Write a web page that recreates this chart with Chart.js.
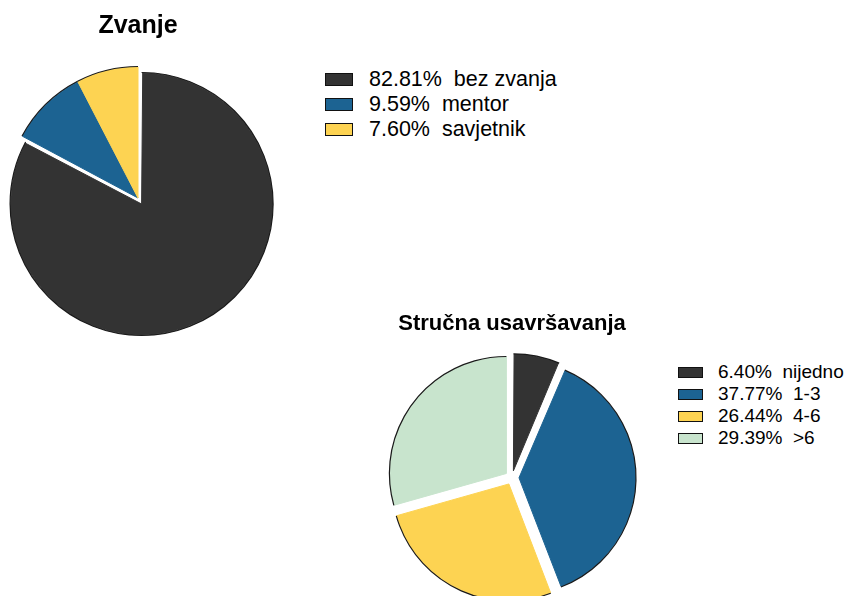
<!DOCTYPE html>
<html>
<head>
<meta charset="utf-8">
<script src="https://cdn.jsdelivr.net/npm/chart.js@4.4.0/dist/chart.umd.min.js"></script>
<style>
    html, body {
        margin: 0;
        padding: 0;
        background: #ffffff;
    }
    body {
        position: relative;
        width: 851px;
        height: 596px;
        overflow: hidden;
        font-family: 'Liberation Sans', Arial, sans-serif;
    }
    .chart-box {
        position: absolute;
    }
    .legend {
        position: absolute;
        color: #000;
    }
    .legend-row {
        display: flex;
        align-items: center;
        white-space: pre;
    }
    .legend-swatch {
        display: inline-block;
        box-sizing: border-box;
        border: 1px solid #111;
    }
</style>
</head>
<body>
<div class="chart-box" style="left:-12px; top:0px; width:300px; height:355px;">
    <canvas id="zvanjeChart"></canvas>
</div>
<div class="legend" id="zvanjeLegend" style="left:325px; top:67px;"></div>

<div class="chart-box" style="left:362px; top:300px; width:300px; height:318px;">
    <canvas id="usavChart"></canvas>
</div>
<div class="legend" id="usavLegend" style="left:678px; top:361px;"></div>

<script>
        const zvanjeLabels = ['bez zvanja', 'mentor', 'savjetnik'];
        const zvanjeValues = [82.81, 9.59, 7.60];

        const usavLabels = ['nijedno', '1-3', '4-6', '>6'];
        const usavValues = [6.40, 37.77, 26.44, 29.39];

        const sliceColors = {
            dark: '#333333',
            blue: '#1c6392',
            yellow: '#fdd352',
            green: '#c8e4cd'
        };

        const zvanjeColors = [sliceColors.dark, sliceColors.blue, sliceColors.yellow];
        const usavColors = [sliceColors.dark, sliceColors.blue, sliceColors.yellow, sliceColors.green];

        // chart.js grows an offset slice's radius a bit; undo that so all slices match
        const radiusFix = (arc) => {
            const off = (arc.options.offset || 0) / 4;
            return off * (1 - Math.sin(Math.min(Math.PI, arc.circumference || 0)));
        };

        const explodePlugin = {
            id: 'explodeFix',
            afterUpdate(chart) {
                chart.getDatasetMeta(0).data.forEach(arc => {
                    arc.outerRadius -= radiusFix(arc);
                });
            },
            afterDatasetsDraw(chart) {
                const ctx = chart.ctx;
                chart.getDatasetMeta(0).data.forEach(arc => {
                    const off = (arc.options.offset || 0) / 4;
                    const mid = (arc.startAngle + arc.endAngle) / 2;
                    const r = arc.outerRadius + radiusFix(arc) + 0.5;
                    ctx.save();
                    ctx.translate(Math.cos(mid) * off, Math.sin(mid) * off);
                    ctx.beginPath();
                    ctx.arc(arc.x, arc.y, r, arc.startAngle, arc.endAngle);
                    ctx.strokeStyle = '#1a1a1a';
                    ctx.lineWidth = 1.2;
                    ctx.stroke();
                    ctx.restore();
                });
            }
        };

        const pieOptions = (title, fontSize, radius) => ({
            responsive: true,
            maintainAspectRatio: false,
            animation: false,
            radius: radius,
            layout: { padding: 0 },
            plugins: {
                legend: { display: false },
                tooltip: { enabled: false },
                title: {
                    display: true,
                    text: title,
                    color: '#000000',
                    font: { family: "'Liberation Sans', Arial, sans-serif", size: fontSize, weight: 'bold' },
                    padding: { top: 11, bottom: 0 }
                }
            }
        });

        new Chart(document.getElementById('zvanjeChart').getContext('2d'), {
            type: 'pie',
            data: {
                labels: zvanjeLabels,
                datasets: [{
                    data: zvanjeValues,
                    backgroundColor: zvanjeColors,
                    borderColor: zvanjeColors,
                    borderWidth: 1,
                    offset: [28, 0, 0],
                    clip: false
                }]
            },
            options: pieOptions('Zvanje', 25, 131),
            plugins: [explodePlugin]
        });

        new Chart(document.getElementById('usavChart').getContext('2d'), {
            type: 'pie',
            data: {
                labels: usavLabels,
                datasets: [{
                    data: usavValues,
                    backgroundColor: usavColors,
                    borderColor: usavColors,
                    borderWidth: 1,
                    offset: 28,
                    clip: false
                }]
            },
            options: pieOptions('Stručna usavršavanja', 22, 116.5),
            plugins: [explodePlugin]
        });

        const buildLegend = (el, labels, values, colors, opts) => {
            labels.forEach((label, i) => {
                const row = document.createElement('div');
                row.className = 'legend-row';
                row.style.height = opts.pitch + 'px';
                row.style.fontSize = opts.fontSize + 'px';
                const sw = document.createElement('span');
                sw.className = 'legend-swatch';
                sw.style.width = opts.boxW + 'px';
                sw.style.height = opts.boxH + 'px';
                sw.style.background = colors[i];
                sw.style.marginRight = opts.gap + 'px';
                const txt = document.createElement('span');
                txt.textContent = values[i].toFixed(2) + '%  ' + label;
                row.appendChild(sw);
                row.appendChild(txt);
                el.appendChild(row);
            });
        };

        buildLegend(document.getElementById('zvanjeLegend'), zvanjeLabels, zvanjeValues, zvanjeColors,
            { pitch: 25, fontSize: 21.5, boxW: 28, boxH: 13, gap: 16 });
        buildLegend(document.getElementById('usavLegend'), usavLabels, usavValues, usavColors,
            { pitch: 22, fontSize: 19, boxW: 25, boxH: 11, gap: 15 });
</script>
</body>
</html>
